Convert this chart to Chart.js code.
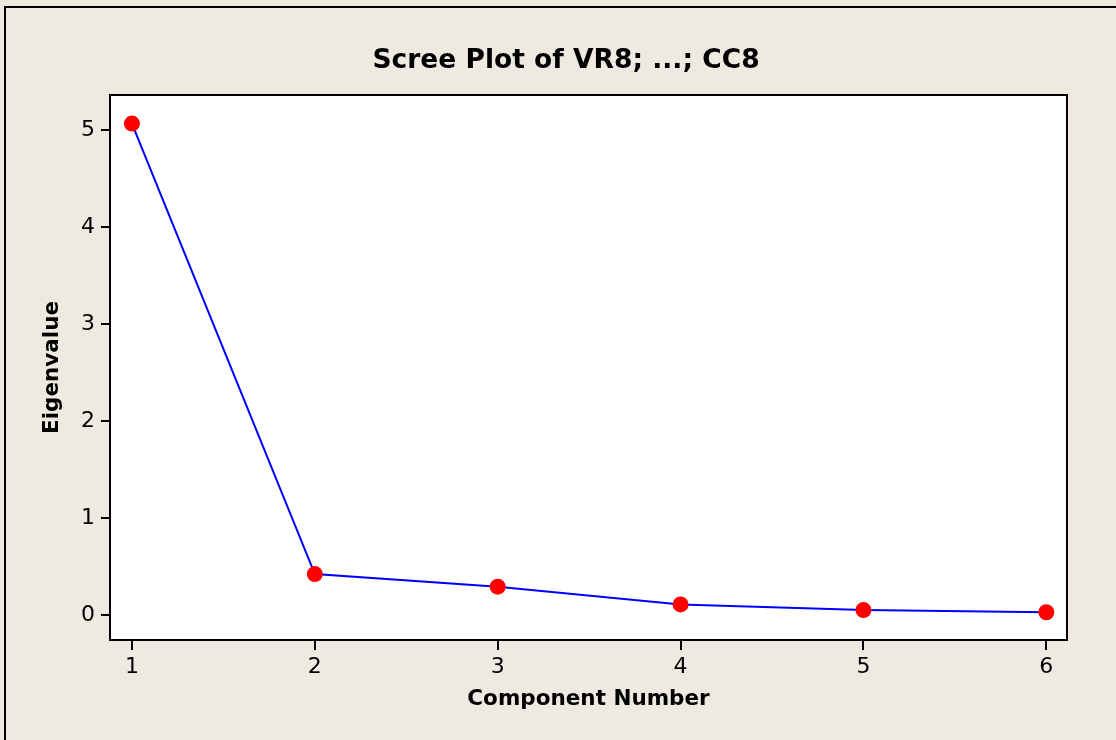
<!DOCTYPE html>
<html>
<head>
<meta charset="utf-8">
<script src="https://cdn.jsdelivr.net/npm/chart.js@4"></script>
<style>
  html, body { margin: 0; padding: 0; background: #EEEAE1; }
  #wrap { width: 1116px; height: 740px; }
</style>
</head>
<body>
<div id="wrap"><canvas id="scree"></canvas></div>
<script>
// values
var components = [1, 2, 3, 4, 5, 6];
var eigenvalues = [5.065, 0.42, 0.29, 0.107, 0.049, 0.026];
var yTicks = [0, 1, 2, 3, 4, 5];

var BG = '#EEEAE1';

// background, white plot area, frame lines
var framePlugin = {
    id: 'frame',
    beforeDraw: function(chart) {
        var ctx = chart.ctx;
        var a = chart.chartArea;
        ctx.save();
        ctx.fillStyle = BG;
        ctx.fillRect(0, 0, chart.width, chart.height);
        ctx.strokeStyle = '#000';
        ctx.lineWidth = 2;
        ctx.beginPath();
        ctx.moveTo(5, chart.height);
        ctx.lineTo(5, 7);
        ctx.lineTo(chart.width, 7);
        ctx.stroke();
        ctx.fillStyle = '#fff';
        ctx.fillRect(a.left, a.top, a.right - a.left, a.bottom - a.top);
        ctx.restore();
    },
    beforeDatasetsDraw: function(chart) {
        var ctx = chart.ctx;
        var a = chart.chartArea;
        ctx.save();
        ctx.strokeStyle = '#000';
        ctx.lineWidth = 2;
        ctx.strokeRect(a.left, a.top, a.right - a.left, a.bottom - a.top);
        ctx.restore();
    }
};

var points = components.map(function(c, i) {
    return { x: c, y: eigenvalues[i] };
});

new Chart(document.getElementById('scree'), {
    type: 'line',
    data: {
        datasets: [{
            label: 'Eigenvalue',
            data: points,
            borderColor: '#0000FF',
            borderWidth: 2,
            pointBackgroundColor: '#FF0000',
            pointBorderWidth: 0,
            pointRadius: 8,
            tension: 0
        }]
    },
    options: {
        responsive: true,
        maintainAspectRatio: false,
        animation: false,
        layout: { padding: { left: 16, right: 0, top: 0, bottom: 0 } },
        plugins: {
            legend: { display: false },
            tooltip: { enabled: false },
            title: {
                display: true,
                text: 'Scree Plot of VR8; ...; CC8',
                color: '#000',
                font: { family: 'DejaVu Sans', size: 26.5, weight: 'bold' },
                padding: { top: 45, bottom: 18.2 }
            }
        },
        scales: {
            x: {
                type: 'linear',
                min: 0.88,
                max: 6.113,
                afterFit: function(scale) { scale.height = 100; },
                afterBuildTicks: function(scale) {
                    scale.ticks = components.map(function(v) { return { value: v }; });
                },
                border: { display: false },
                grid: {
                    drawOnChartArea: false,
                    drawTicks: true,
                    tickLength: 10,
                    color: '#000',
                    lineWidth: 2
                },
                ticks: {
                    color: '#000',
                    padding: 4,
                    font: { family: 'DejaVu Sans', size: 22 },
                    maxRotation: 0
                },
                title: {
                    display: true,
                    text: 'Component Number',
                    color: '#000',
                    font: { family: 'DejaVu Sans', size: 21.5, weight: 'bold' },
                    padding: { top: 0, bottom: 28 }
                }
            },
            y: {
                min: -0.26,
                max: 5.36,
                afterFit: function(scale) { scale.width = 94; },
                afterBuildTicks: function(scale) {
                    scale.ticks = yTicks.map(function(v) { return { value: v }; });
                },
                border: { display: false },
                grid: {
                    drawOnChartArea: false,
                    drawTicks: true,
                    tickLength: 9,
                    color: '#000',
                    lineWidth: 2
                },
                ticks: {
                    color: '#000',
                    padding: 6,
                    font: { family: 'DejaVu Sans', size: 22 }
                },
                title: {
                    display: true,
                    text: 'Eigenvalue',
                    color: '#000',
                    font: { family: 'DejaVu Sans', size: 21.5, weight: 'bold' },
                    padding: { top: 24, bottom: 0 }
                }
            },
            // empty right-hand margin so the plot ends where the reference does
            yRight: {
                position: 'right',
                display: true,
                min: -0.26,
                max: 5.36,
                afterFit: function(scale) { scale.width = 49; },
                border: { display: false },
                grid: { display: false },
                ticks: { display: false }
            }
        }
    },
    plugins: [framePlugin]
});
</script>
</body>
</html>
